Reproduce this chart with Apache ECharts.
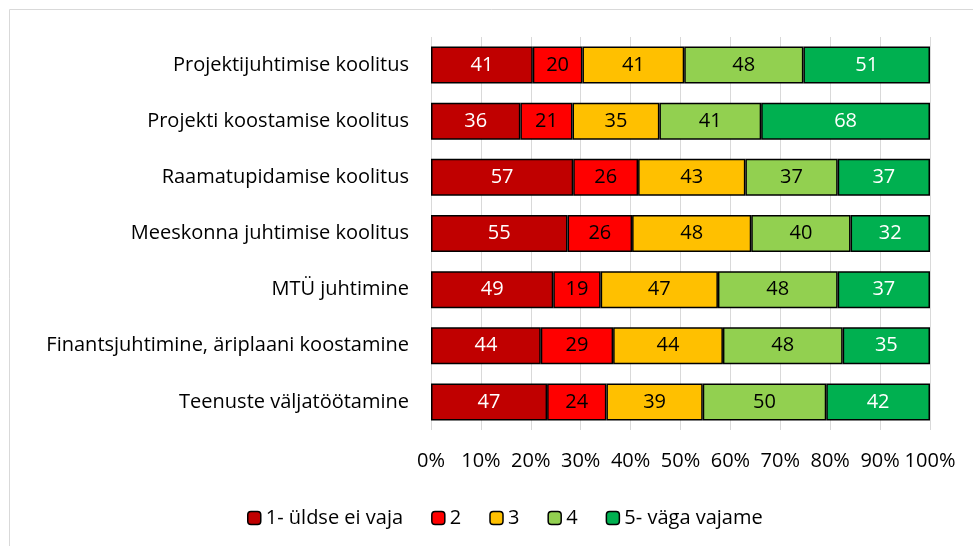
<!DOCTYPE html>
<html>
<head>
<meta charset="utf-8">
<script src="https://cdn.jsdelivr.net/npm/echarts@6/dist/echarts.min.js"></script>
<style>
  html, body { margin: 0; padding: 0; background: #fff; }
  #chart { width: 973px; height: 546px; }
</style>
</head>
<body>
<div id="chart"></div>
<script>
// kategooriad ülevalt alla
const categories = [
  "Projektijuhtimise koolitus",
  "Projekti koostamise koolitus",
  "Raamatupidamise koolitus",
  "Meeskonna juhtimise koolitus",
  "MTÜ juhtimine",
  "Finantsjuhtimine, äriplaani koostamine",
  "Teenuste väljatöötamine"
];
const seriesNames = ["1- üldse ei vaja", "2", "3", "4", "5- väga vajame"];
const s1 = [41, 36, 57, 55, 49, 44, 47];
const s2 = [20, 21, 26, 26, 19, 29, 24];
const s3 = [41, 35, 43, 48, 47, 44, 39];
const s4 = [48, 41, 37, 40, 48, 48, 50];
const s5 = [51, 68, 37, 32, 37, 35, 42];
const tickLabels = ["0%", "10%", "20%", "30%", "40%", "50%", "60%", "70%", "80%", "90%", "100%"];

const colors = ["#C00000", "#FF0000", "#FFC000", "#92D050", "#00B050"];
const labelColors = ["#fff", "#000", "#000", "#000", "#fff"];
const font = "'Open Sans', sans-serif";
const fs = 20;

const all = [s1, s2, s3, s4, s5];
const totals = categories.map((c, i) => all.reduce((a, s) => a + s[i], 0));

const chart = echarts.init(document.getElementById("chart"));

const option = {
  animation: false,
  textStyle: { fontFamily: font },
  graphic: [{
    type: "rect",
    shape: { x: 9.5, y: 9.5, width: 980, height: 560 },
    style: { fill: "none", stroke: "#d9d9d9", lineWidth: 1 },
    silent: true
  }],
  grid: { left: 431, right: 43, top: 37, bottom: 116 },
  legend: {
    bottom: 13,
    left: 242,
    itemWidth: 13,
    itemHeight: 13,
    itemGap: 28,
    textStyle: { fontSize: fs, color: "#000", fontFamily: font },
    data: seriesNames.map((n, i) => ({
      name: n,
      itemStyle: { color: colors[i], borderColor: "#000", borderWidth: 1.5 }
    }))
  },
  xAxis: {
    type: "value",
    min: 0,
    max: 100,
    interval: 10,
    axisLine: { show: false },
    axisTick: { show: false },
    splitLine: { show: true, lineStyle: { color: "#d9d9d9", width: 1 } },
    axisLabel: {
      margin: 21,
      fontSize: fs,
      color: "#000",
      fontFamily: font,
      formatter: (v) => tickLabels[Math.round(v / 10)]
    }
  },
  yAxis: {
    type: "category",
    inverse: true,
    data: categories,
    axisLine: { show: false },
    axisTick: { show: false },
    axisLabel: { margin: 22, fontSize: fs, color: "#000", fontFamily: font }
  },
  series: all.map((s, k) => ({
    name: seriesNames[k],
    type: "bar",
    stack: "total",
    barWidth: 37,
    itemStyle: { color: colors[k], borderColor: "#000", borderWidth: 1.5 },
    label: {
      show: true,
      position: "inside",
      fontSize: fs,
      color: labelColors[k],
      fontFamily: font,
      formatter: (p) => s[p.dataIndex]
    },
    data: s.map((v, i) => v / totals[i] * 100)
  }))
};

chart.setOption(option);
</script>
</body>
</html>
